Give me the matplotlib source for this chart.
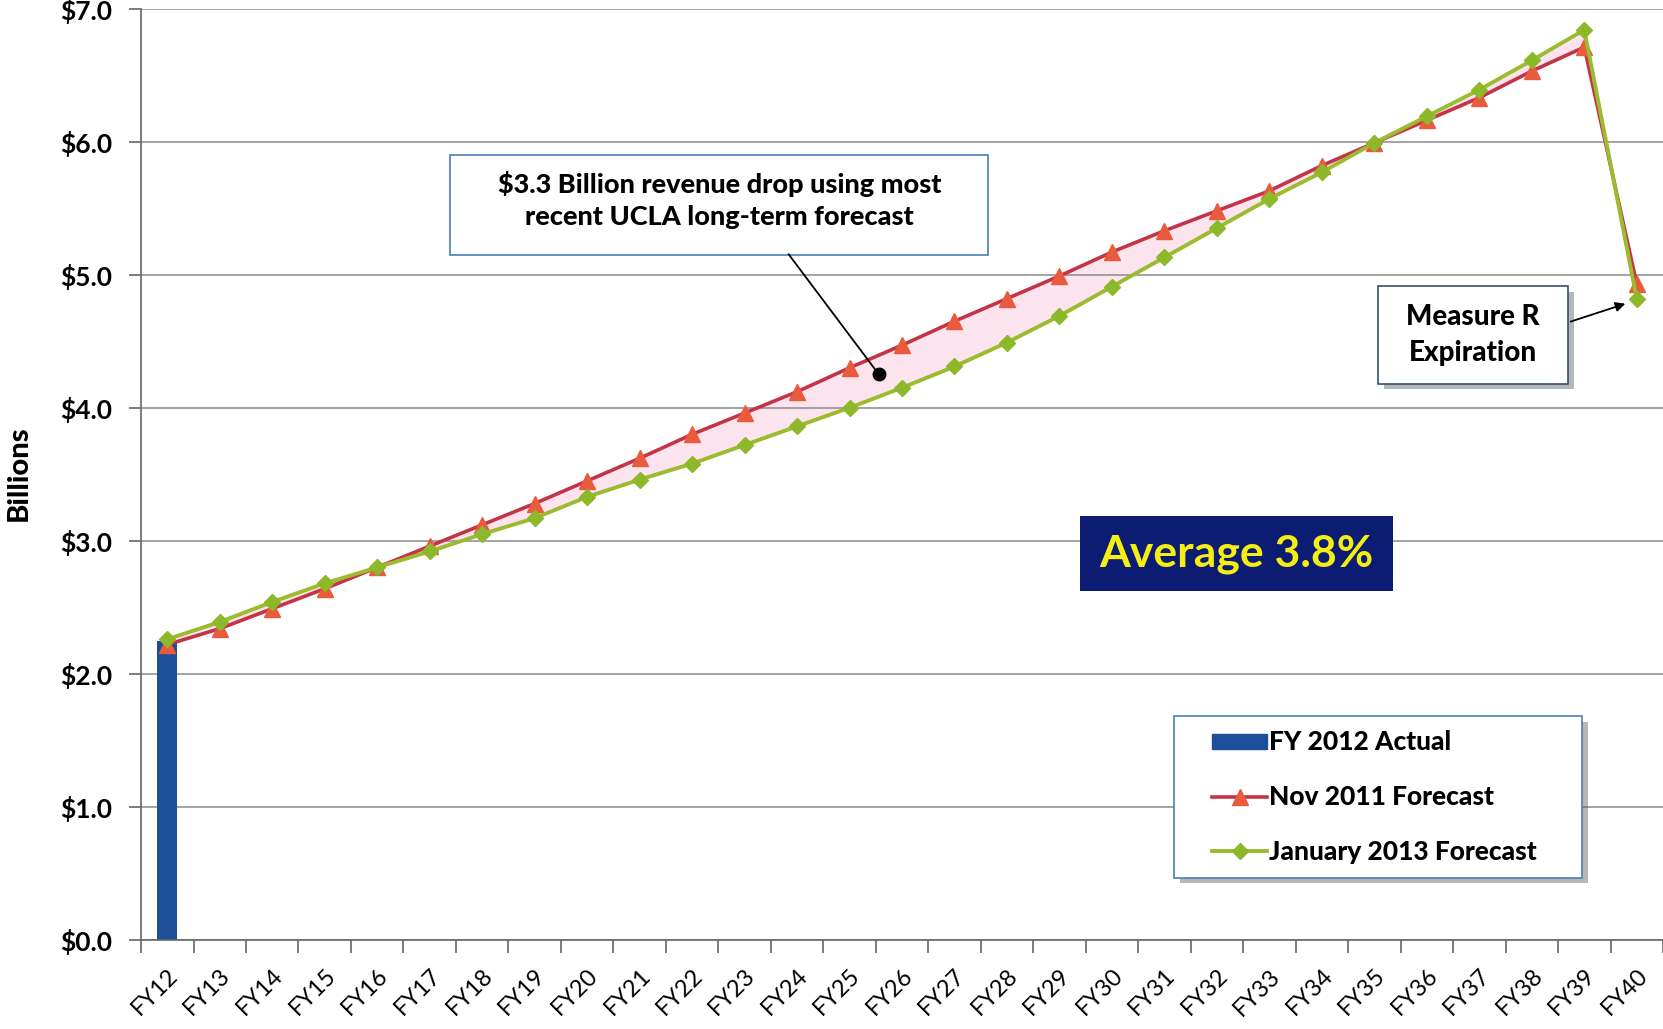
import matplotlib.pyplot as plt
import matplotlib.patheffects as pe
from matplotlib.patches import Rectangle, Patch
from matplotlib.lines import Line2D
import numpy as np

plt.rcParams['font.family'] = ['Lato', 'DejaVu Sans']

# categories and series (billions of dollars)
years = ["FY%d" % n for n in range(12, 41)]
actual_fy12 = 2.25
nov_2011 = [2.22, 2.34, 2.49, 2.64, 2.80, 2.96, 3.12, 3.28, 3.45, 3.62,
            3.80, 3.96, 4.12, 4.30, 4.47, 4.65, 4.82, 4.99, 5.17, 5.33,
            5.48, 5.63, 5.82, 5.99, 6.16, 6.33, 6.53, 6.71, 4.93]
jan_2013 = [2.26, 2.39, 2.54, 2.68, 2.80, 2.92, 3.05, 3.17, 3.33, 3.46,
            3.58, 3.72, 3.86, 4.00, 4.15, 4.31, 4.49, 4.69, 4.91, 5.13,
            5.35, 5.57, 5.77, 5.99, 6.19, 6.39, 6.61, 6.84, 4.82]
y_ticks = [0, 1, 2, 3, 4, 5, 6, 7]
y_tick_labels = ["$0.0", "$1.0", "$2.0", "$3.0", "$4.0", "$5.0", "$6.0", "$7.0"]

x = np.arange(len(years))

fig = plt.figure(figsize=(16.63, 10.29), dpi=100)
ax = fig.add_axes([0.0848, 0.0865, 0.9152, 0.9052])

red_line = "#c43448"
red_mark = "#ea5a3c"
green_line = "#9cbb2e"
green_mark = "#8db82a"
bar_col = "#1d4f98"

ax.fill_between(x, nov_2011, jan_2013, color="#fbe4ee", zorder=1)
ax.bar(x[:1], [actual_fy12], width=0.38, color=bar_col, zorder=2)
ax.plot(x, nov_2011, color=red_line, lw=2.6, marker="^", ms=12,
        mfc=red_mark, mec=red_mark, zorder=3)
ax.plot(x, jan_2013, color=green_line, lw=2.8, marker="D", ms=8.5,
        mfc=green_mark, mec=green_mark, zorder=4)

ax.set_xlim(-0.5, 28.45)
ax.set_ylim(0, 7)
ax.set_yticks(y_ticks)
ax.set_yticklabels(y_tick_labels, fontsize=19, fontweight="bold")
ax.set_xticks(x)
ax.set_xticklabels(years, fontsize=17, rotation=45, ha="right",
                   rotation_mode="anchor")
ax.set_xticks(np.arange(-0.5, 29, 1), minor=True)
ax.tick_params(axis="x", which="major", length=0, pad=18)
ax.tick_params(axis="x", which="minor", length=9, color="#666666", width=1.2)
ax.tick_params(axis="y", length=9, color="#666666", width=1.2, pad=12)
ax.grid(axis="y", color="#8a8a8a", lw=1.1, zorder=0)
for s in ["top", "right"]:
    ax.spines[s].set_visible(False)
for s in ["left", "bottom"]:
    ax.spines[s].set_color("#666666")
    ax.spines[s].set_linewidth(1.2)

fig.text(0.0115, 0.54, "Billions", rotation=90, fontsize=21,
         fontweight="black", ha="center", va="center")

# revenue-drop callout
ax.add_patch(Rectangle((0.203, 0.735), 0.3535, 0.108, transform=ax.transAxes,
                       facecolor="white", edgecolor="#4a7ebb", lw=1.2, zorder=6))
ax.text(0.380, 0.7945, "$3.3 Billion revenue drop using most\nrecent UCLA long-term forecast",
        transform=ax.transAxes, ha="center", va="center", fontsize=19.5,
        fontweight="black", linespacing=1.4, zorder=7)
ax.annotate("", xy=(13.56, 4.25), xytext=(0.4244, 0.7386),
            xycoords="data", textcoords="axes fraction",
            arrowprops=dict(arrowstyle="-", color="black", lw=1.3), zorder=7)
ax.plot([13.56], [4.25], "o", color="black", ms=9, zorder=8)

# Measure R callout
r = Rectangle((0.813, 0.597), 0.1246, 0.105, transform=ax.transAxes,
              facecolor="white", edgecolor="#34506e", lw=1.2, zorder=6)
r.set_path_effects([pe.SimplePatchShadow(offset=(4, -4), alpha=0.4), pe.Normal()])
ax.add_patch(r)
ax.text(0.8753, 0.6495, "Measure R\nExpiration", transform=ax.transAxes,
        ha="center", va="center", fontsize=20, fontweight="black",
        linespacing=1.45, zorder=7)
ax.annotate("", xy=(0.977, 0.684), xytext=(0.9376, 0.663),
            xycoords="axes fraction", textcoords="axes fraction",
            arrowprops=dict(arrowstyle="-|>", color="black", lw=1.3,
                            mutation_scale=14), zorder=7)

# average growth box
ax.add_patch(Rectangle((0.617, 0.3747), 0.2056, 0.0803, transform=ax.transAxes,
                       facecolor="#0c1c72", edgecolor="none", zorder=6))
ax.text(0.7198, 0.4145, "Average 3.8%", transform=ax.transAxes, ha="center",
        va="center", fontsize=32, color="#f4ee14", fontweight="bold",
        zorder=7)

# legend frame drawn separately so its size matches the original
lf = Rectangle((0.679, 0.067), 0.268, 0.173, transform=ax.transAxes,
               facecolor="white", edgecolor="#4a7ebb", lw=1.2, zorder=8)
lf.set_path_effects([pe.SimplePatchShadow(offset=(4, -4), alpha=0.4), pe.Normal()])
ax.add_patch(lf)

handles = [Patch(facecolor=bar_col, edgecolor=bar_col),
           Line2D([], [], color=red_line, lw=2.6, marker="^", ms=12,
                  mfc=red_mark, mec=red_mark),
           Line2D([], [], color=green_line, lw=2.8, marker="D", ms=8.5,
                  mfc=green_mark, mec=green_mark)]
labels = ["FY 2012 Actual", "Nov 2011 Forecast", "January 2013 Forecast"]
leg = ax.legend(handles, labels, loc="upper left", bbox_to_anchor=(0.7037, 0.225),
                prop={"weight": "black", "size": 19}, frameon=False,
                handlelength=2.1, handleheight=0.5, handletextpad=0.05,
                labelspacing=1.16, borderpad=0, borderaxespad=0)
leg.set_zorder(9)

fig.savefig("out.png", dpi=100)
